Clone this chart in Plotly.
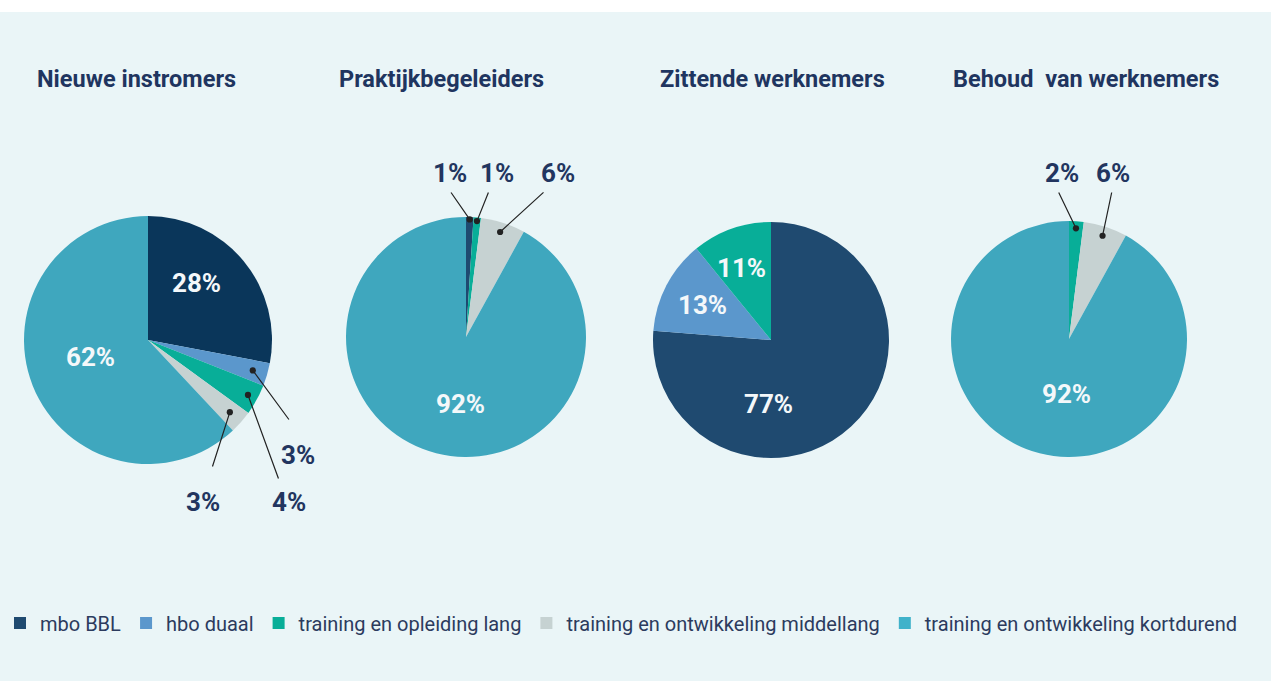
import math
import plotly.graph_objects as go

W, H = 1271, 681

# ---------------- data ----------------
labels = ["mbo BBL", "hbo duaal", "training en opleiding lang",
          "training en ontwikkeling middellang", "training en ontwikkeling kortdurend"]
titles = ["Nieuwe instromers", "Praktijkbegeleiders", "Zittende werknemers", "Behoud  van werknemers"]

nieuwe_instromers = [28, 3, 4, 3, 62]
praktijkbegeleiders = [1, 0, 1, 6, 92]
zittende_werknemers = [77, 13, 11, 0, 0]
behoud_werknemers = [0, 0, 2, 6, 92]

series = [nieuwe_instromers, praktijkbegeleiders, zittende_werknemers, behoud_werknemers]

# ---------------- styling / layout ----------------
BG = "#eaf5f7"
NAVY = "#1f3560"
colors_std = ["#1f4a70", "#5b97cc", "#08ae98", "#c6d2d2", "#3fa7be"]
colors_p1 = ["#0a365a", "#5b97cc", "#08ae98", "#c6d2d2", "#3fa7be"]
legend_colors = ["#1f4a70", "#5b97cc", "#08ae98", "#c6d2d2", "#40b2ca"]

# pie boxes in pixels: (left, top, size)
boxes = [(24, 216, 248), (346, 217, 240), (653, 222, 236), (951, 221, 236)]
title_x = [35, 337, 658, 951]
title_y = 79

# inside labels: (pie, slice, label centre px)
inside_labels = [
    (0, 0, (196, 283)),
    (0, 4, (90, 357)),
    (1, 4, (460, 404)),
    (2, 0, (768, 404)),
    (2, 1, (702, 305)),
    (2, 2, (742, 268)),
    (3, 4, (1066, 394)),
]

# outside callouts: (pie, slice, radius fraction, line end px, label centre px)
callouts = [
    (0, 1, 0.88, (290, 421), (298, 455)),
    (0, 2, 0.92, (279, 480), (289, 502)),
    (0, 3, 0.88, (212, 468), (203, 502)),
    (1, 0, 0.98, (450, 191), (450, 173)),
    (1, 2, 0.97, (489, 191), (497, 173)),
    (1, 3, 0.92, (545, 191), (558, 173)),
    (3, 2, 0.94, (1058, 191), (1062, 173)),
    (3, 3, 0.92, (1112, 191), (1113, 173)),
]

FONT = "Roboto"

fig = go.Figure()

# draw order chosen so the legend takes the standard colours
order = [2, 0, 1, 3]
for i in order:
    vals = series[i]
    left, top, size = boxes[i]
    cols = colors_p1 if i == 0 else colors_std
    if i == 2:
        cols = legend_colors
    fig.add_trace(go.Pie(
        labels=labels, values=vals, textinfo="none",
        sort=False, direction="clockwise", rotation=0,
        marker=dict(colors=cols, line=dict(width=0)),
        domain=dict(x=[left / W, (left + size) / W], y=[1 - (top + size) / H, 1 - top / H]),
        hoverinfo="label+percent", showlegend=True,
    ))

annotations = []
for i, t in enumerate(titles):
    annotations.append(dict(text=t, x=title_x[i] / W, y=1 - title_y / H, xref="paper", yref="paper",
                            xanchor="left", yanchor="middle", showarrow=False,
                            font=dict(family=FONT, size=23.5, color=NAVY, weight="bold")))

for (p, s, lab) in inside_labels:
    annotations.append(dict(text=f"{series[p][s]}%", x=lab[0] / W, y=1 - lab[1] / H,
                            xref="paper", yref="paper", xanchor="center", yanchor="middle",
                            showarrow=False,
                            font=dict(family=FONT, size=26, color="#f4f8fa", weight="bold")))

for (p, s, rf, end, lab) in callouts:
    vals = series[p]
    tot = sum(vals)
    mid = (sum(vals[:s]) + vals[s] / 2) / tot * 2 * math.pi
    left, top, size = boxes[p]
    cx, cy, r = left + size / 2, top + size / 2, size / 2
    tx = cx + rf * r * math.sin(mid)
    ty = cy - rf * r * math.cos(mid)
    annotations.append(dict(text="", x=tx / W, y=1 - ty / H, xref="paper", yref="paper",
                            showarrow=True, ax=end[0] - tx, ay=end[1] - ty,
                            arrowhead=6, arrowsize=1.3, arrowwidth=1.2, arrowcolor="#222222"))
    annotations.append(dict(text=f"{vals[s]}%", x=lab[0] / W, y=1 - lab[1] / H, xref="paper", yref="paper",
                            xanchor="center", yanchor="middle", showarrow=False,
                            font=dict(family=FONT, size=26, color="#22355f", weight="bold")))

fig.update_layout(
    width=W, height=H,
    margin=dict(l=0, r=0, t=0, b=0),
    paper_bgcolor=BG, plot_bgcolor=BG,
    annotations=annotations,
    shapes=[dict(type="rect", xref="paper", yref="paper", x0=0, x1=1, y0=1 - 12 / H, y1=1,
                 fillcolor="white", line=dict(width=0), layer="below")],
    legend=dict(orientation="h", x=0 / W, y=1 - 623 / H, xanchor="left", yanchor="middle",
                font=dict(family=FONT, size=20, color="#2c3b5e"), bgcolor="rgba(0,0,0,0)",
                itemclick=False, traceorder="normal"),
)

fig.write_html("out.html", config={"displayModeBar": False},
               post_script="document.body.style.margin='0';document.body.style.overflow='hidden';")
